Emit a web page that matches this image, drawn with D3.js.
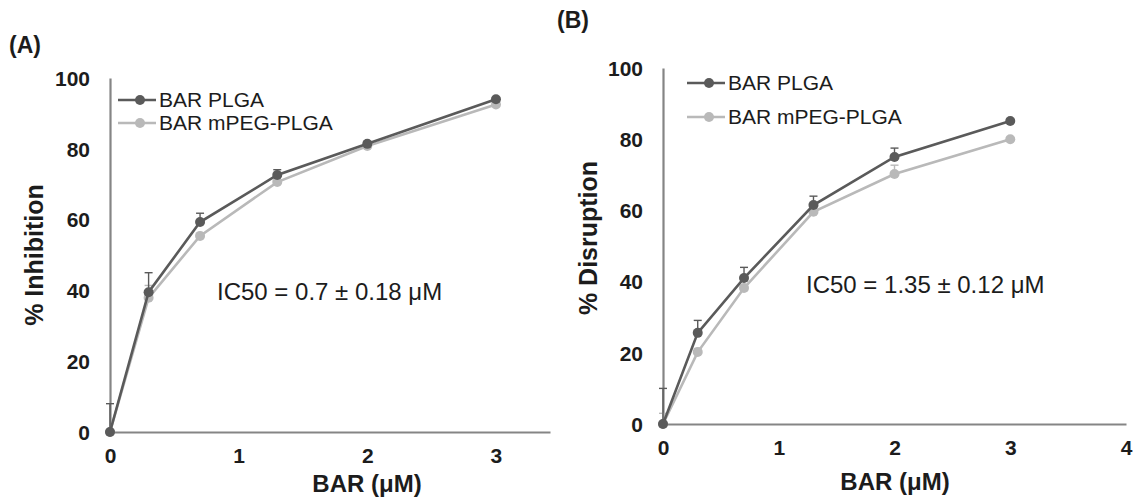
<!DOCTYPE html>
<html>
<head>
<meta charset="utf-8">
<script src="https://cdn.jsdelivr.net/npm/d3@7"></script>
<style>
  body { margin: 0; background: #fff; }
  svg text { font-family: "Liberation Sans", Arial, sans-serif; fill: #1c1c1c; }
</style>
</head>
<body>
<svg id="chart"></svg>
<script>
// concentrations of BAR (uM)
const conc = [0, 0.3, 0.7, 1.3, 2, 3];

// panel A: % inhibition
const plgaInhibition = [0, 39.5, 59.3, 72.6, 81.4, 94];
const mpegInhibition = [0, 37.9, 55.4, 70.6, 80.8, 92.5];
const plgaInhibitionErr = [8, 5.5, 2.5, 1.5, 0.5, 0.5];
const mpegInhibitionErr = [0, 3.5, 0, 0, 0, 0];

// panel B: % disruption
const plgaDisruption = [0, 25.6, 41, 61.5, 75, 85.1];
const mpegDisruption = [0, 20.2, 38.2, 59.6, 70.2, 80];
const plgaDisruptionErr = [10, 3.5, 3, 2.5, 2.5, 0.5];
const mpegDisruptionErr = [3, 1, 2, 1, 2.5, 0.5];

const yTicks = [0, 20, 40, 60, 80, 100];
const xTicksA = [0, 1, 2, 3];
const xTicksB = [0, 1, 2, 3, 4];
const seriesNames = ["BAR PLGA", "BAR mPEG-PLGA"];

const darkColor = "#5a5a5a";
const lightColor = "#b9b9b9";
const axisColor = "#858585";

const svg = d3.select("#chart").attr("width", 1135).attr("height", 501);

function drawPanel(p) {
    const x = d3.scaleLinear().domain(p.xDomain).range(p.xRange);
    const y = d3.scaleLinear().domain([0, 100]).range(p.yRange);
    const g = svg.append("g");

    const yAxis = g.append("g")
        .attr("transform", `translate(${p.xRange[0]},0)`)
        .call(d3.axisLeft(y).tickValues(yTicks).tickFormat(d3.format("d"))
            .tickSize(0).tickPadding(20));
    const xAxis = g.append("g")
        .attr("transform", `translate(0,${p.yRange[0]})`)
        .call(d3.axisBottom(x).tickValues(p.xTicks).tickFormat(d3.format("d"))
            .tickSize(0).tickPadding(16));

    [yAxis, xAxis].forEach(ax => {
        ax.select(".domain").attr("stroke", axisColor).attr("stroke-width", 2.2);
        ax.selectAll("text")
            .style("font-family", '"Liberation Sans", Arial, sans-serif')
            .style("font-size", "21px")
            .style("font-weight", "bold")
            .attr("fill", "#1c1c1c");
    });
    yAxis.selectAll("text").attr("dy", "0.35em");

    const line = d3.line().x(d => x(d[0])).y(d => y(d[1]));

    // light series first, dark on top
    const series = [
        { vals: p.light, err: p.lightErr, color: lightColor },
        { vals: p.dark, err: p.darkErr, color: darkColor }
    ];

    series.forEach(s => {
        const pts = conc.map((c, i) => [c, s.vals[i], s.err[i]]);
        // error bars (positive direction)
        const eb = g.append("g").attr("stroke", s.color).attr("stroke-width", 1.4);
        pts.filter(d => d[2] > 0).forEach(d => {
            eb.append("line")
                .attr("x1", x(d[0])).attr("x2", x(d[0]))
                .attr("y1", y(d[1])).attr("y2", y(d[1] + d[2]));
            eb.append("line")
                .attr("x1", x(d[0]) - 4).attr("x2", x(d[0]) + 4)
                .attr("y1", y(d[1] + d[2])).attr("y2", y(d[1] + d[2]));
        });
        g.append("path")
            .datum(pts)
            .attr("fill", "none")
            .attr("stroke", s.color)
            .attr("stroke-width", 2.6)
            .attr("d", line);
        g.selectAll(null)
            .data(pts)
            .enter().append("circle")
            .attr("cx", d => x(d[0]))
            .attr("cy", d => y(d[1]))
            .attr("r", 5)
            .attr("fill", s.color);
    });

    // legend
    const lg = g.append("g").attr("transform", `translate(${p.legend[0]},${p.legend[1]})`);
    [darkColor, lightColor].forEach((c, i) => {
        const yy = i * p.legendGap;
        lg.append("line").attr("x1", 0).attr("x2", 38).attr("y1", yy).attr("y2", yy)
            .attr("stroke", c).attr("stroke-width", 2.6);
        lg.append("circle").attr("cx", 22).attr("cy", yy).attr("r", 5).attr("fill", c);
        lg.append("text").attr("x", 41).attr("y", yy).attr("dy", "0.35em")
            .style("font-size", "21px").text(seriesNames[i]);
    });

    // IC50 annotation
    g.append("text")
        .attr("x", p.ic50Pos[0]).attr("y", p.ic50Pos[1]).attr("dy", "0.35em")
        .style("font-size", "24px")
        .text(p.ic50);

    // axis titles
    g.append("text")
        .attr("transform", `translate(${p.yTitlePos[0]},${p.yTitlePos[1]}) rotate(-90)`)
        .attr("text-anchor", "middle").attr("dy", "0.35em")
        .style("font-size", "25px").style("font-weight", "bold")
        .text(p.yTitle);
    g.append("text")
        .attr("x", p.xTitlePos[0]).attr("y", p.xTitlePos[1]).attr("dy", "0.35em")
        .attr("text-anchor", "middle")
        .style("font-size", "24px").style("font-weight", "bold")
        .text("BAR (μM)");

    // panel label
    g.append("text")
        .attr("x", p.label[0]).attr("y", p.label[1]).attr("dy", "0.35em")
        .style("font-size", "23px").style("font-weight", "bold")
        .text(p.labelText);
}

drawPanel({
    xDomain: [0, 3.42], xRange: [110, 550], yRange: [432, 78], xTicks: xTicksA,
    dark: plgaInhibition, light: mpegInhibition,
    darkErr: plgaInhibitionErr, lightErr: mpegInhibitionErr,
    legend: [118, 100], legendGap: 23,
    ic50: "IC50 = 0.7 ± 0.18 μM", ic50Pos: [217, 292],
    yTitle: "% Inhibition", yTitlePos: [34, 255],
    xTitlePos: [367, 484],
    labelText: "(A)", label: [9, 45]
});

drawPanel({
    xDomain: [0, 4], xRange: [663, 1126], yRange: [424, 68], xTicks: xTicksB,
    dark: plgaDisruption, light: mpegDisruption,
    darkErr: plgaDisruptionErr, lightErr: mpegDisruptionErr,
    legend: [687, 83], legendGap: 34,
    ic50: "IC50 = 1.35 ± 0.12 μM", ic50Pos: [806, 285],
    yTitle: "% Disruption", yTitlePos: [588, 238],
    xTitlePos: [895, 482],
    labelText: "(B)", label: [557, 20]
});
</script>
</body>
</html>
